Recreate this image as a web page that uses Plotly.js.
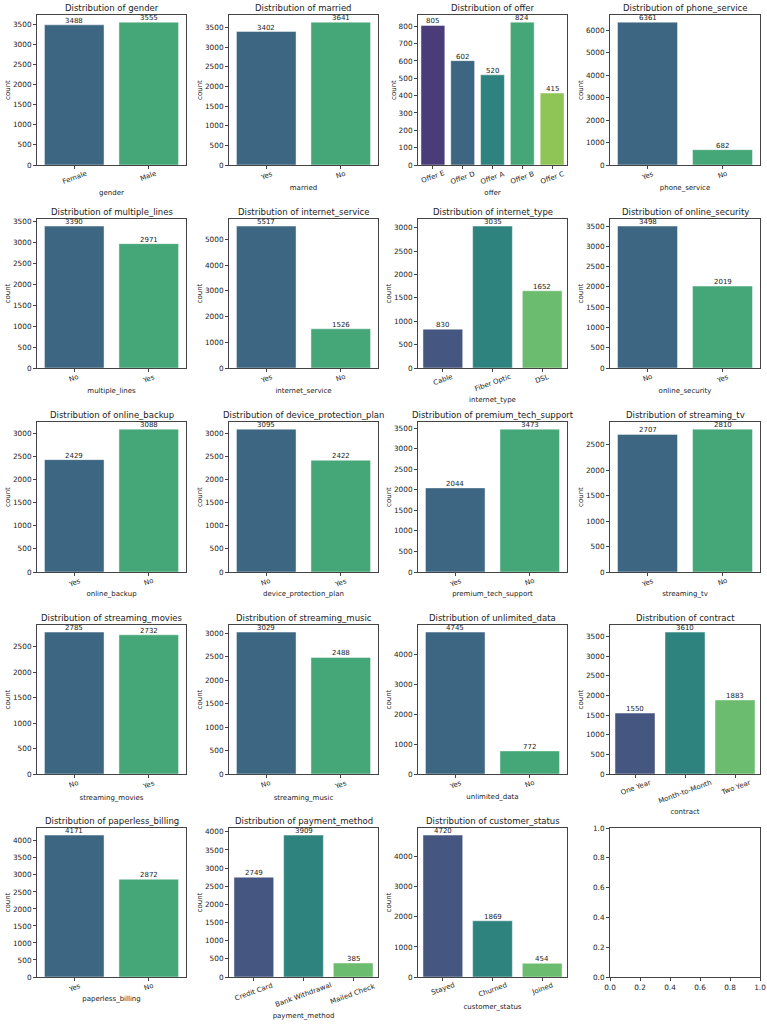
<!DOCTYPE html>
<html><head><meta charset="utf-8">
<script src="https://cdn.plot.ly/plotly-3.0.1.min.js"></script>
<style>html,body{margin:0;padding:0;background:#fff}</style>
</head><body><div id="chart" style="width:767px;height:1025px"></div>
<script>
// ---- data ----
const genderCats = ['Female', 'Male'];
const genderCounts = [3488, 3555];
const marriedCats = ['Yes', 'No'];
const marriedCounts = [3402, 3641];
const offerCats = ['Offer E', 'Offer D', 'Offer A', 'Offer B', 'Offer C'];
const offerCounts = [805, 602, 520, 824, 415];
const phoneServiceCats = ['Yes', 'No'];
const phoneServiceCounts = [6361, 682];
const multipleLinesCats = ['No', 'Yes'];
const multipleLinesCounts = [3390, 2971];
const internetServiceCats = ['Yes', 'No'];
const internetServiceCounts = [5517, 1526];
const internetTypeCats = ['Cable', 'Fiber Optic', 'DSL'];
const internetTypeCounts = [830, 3035, 1652];
const onlineSecurityCats = ['No', 'Yes'];
const onlineSecurityCounts = [3498, 2019];
const onlineBackupCats = ['Yes', 'No'];
const onlineBackupCounts = [2429, 3088];
const deviceProtectionCats = ['No', 'Yes'];
const deviceProtectionCounts = [3095, 2422];
const premiumTechCats = ['Yes', 'No'];
const premiumTechCounts = [2044, 3473];
const streamingTvCats = ['Yes', 'No'];
const streamingTvCounts = [2707, 2810];
const streamingMoviesCats = ['No', 'Yes'];
const streamingMoviesCounts = [2785, 2732];
const streamingMusicCats = ['No', 'Yes'];
const streamingMusicCounts = [3029, 2488];
const unlimitedDataCats = ['Yes', 'No'];
const unlimitedDataCounts = [4745, 772];
const contractCats = ['One Year', 'Month-to-Month', 'Two Year'];
const contractCounts = [1550, 3610, 1883];
const paperlessCats = ['Yes', 'No'];
const paperlessCounts = [4171, 2872];
const paymentCats = ['Credit Card', 'Bank Withdrawal', 'Mailed Check'];
const paymentCounts = [2749, 3909, 385];
const customerStatusCats = ['Stayed', 'Churned', 'Joined'];
const customerStatusCounts = [4720, 1869, 454];

const panels = [
  ['gender', genderCats, genderCounts],
  ['married', marriedCats, marriedCounts],
  ['offer', offerCats, offerCounts],
  ['phone_service', phoneServiceCats, phoneServiceCounts],
  ['multiple_lines', multipleLinesCats, multipleLinesCounts],
  ['internet_service', internetServiceCats, internetServiceCounts],
  ['internet_type', internetTypeCats, internetTypeCounts],
  ['online_security', onlineSecurityCats, onlineSecurityCounts],
  ['online_backup', onlineBackupCats, onlineBackupCounts],
  ['device_protection_plan', deviceProtectionCats, deviceProtectionCounts],
  ['premium_tech_support', premiumTechCats, premiumTechCounts],
  ['streaming_tv', streamingTvCats, streamingTvCounts],
  ['streaming_movies', streamingMoviesCats, streamingMoviesCounts],
  ['streaming_music', streamingMusicCats, streamingMusicCounts],
  ['unlimited_data', unlimitedDataCats, unlimitedDataCounts],
  ['contract', contractCats, contractCounts],
  ['paperless_billing', paperlessCats, paperlessCounts],
  ['payment_method', paymentCats, paymentCounts],
  ['customer_status', customerStatusCats, customerStatusCounts]
];

// ---- style ----
const yTickStep = [500,500,100,1000,500,1000,500,500,500,500,500,500,500,500,1000,500,500,500,1000];
const xTitleGap = [27,22,27,22,22,22,31,22,21,21,21,21,23,23,22,37,21,38,29];
const palettes = {
  2: ['#3d6682', '#45a778'],
  3: ['#455681', '#2f837f', '#6bbc6e'],
  5: ['#4a3c78', '#3d6682', '#2f837f', '#45a778', '#8fc556']
};
const colPx = [[37,186],[229,378],[418,567],[610,760]];
const rowPx = [[15,165],[219,368],[422,572],[625,774],[828,977]];
const W = 767, H = 1025;
const FONT = 'DejaVu Sans, Arial, sans-serif';
const TXT = '#222222';
const LINE = '#444444';

const traces = [];
const annotations = [];
const layout = {
  width: W, height: H,
  margin: {l:0, r:0, t:0, b:0},
  paper_bgcolor: '#ffffff', plot_bgcolor: '#ffffff',
  showlegend: false,
  font: {family: FONT, size: 7, color: TXT},
  bargap: 0.2
};

function domains(i) {
  const c = colPx[i % 4], r = rowPx[Math.floor(i / 4)];
  return {x: [c[0] / W, c[1] / W], y: [1 - r[1] / H, 1 - r[0] / H]};
}

panels.forEach((p, i) => {
  const [name, cats, counts] = p;
  const id = i + 1;
  const xs = id === 1 ? 'x' : 'x' + id;
  const ys = id === 1 ? 'y' : 'y' + id;
  const d = domains(i);
  const pal = palettes[cats.length];
  traces.push({
    type: 'bar', x: cats, y: counts, xaxis: xs, yaxis: ys,
    marker: {color: pal, line: {color: 'rgba(255,255,255,0.45)', width: 1}},
    hoverinfo: 'x+y', cliponaxis: false
  });
  const ymax = Math.max(...counts) * 1.05;
  layout['xaxis' + (id === 1 ? '' : id)] = {
    domain: d.x, anchor: ys, type: 'category',
    range: [-0.5, cats.length - 0.5],
    showticklabels: false, ticks: 'outside', ticklen: 3, tickcolor: LINE, tickwidth: 1,
    showline: true, mirror: true, linecolor: LINE, linewidth: 1,
    showgrid: false, zeroline: false, fixedrange: true,
    title: {text: name, font: {size: 7, color: TXT}, standoff: xTitleGap[i] - 5}
  };
  layout['yaxis' + (id === 1 ? '' : id)] = {
    domain: d.y, anchor: xs,
    range: [0, ymax], tick0: 0, dtick: yTickStep[i],
    ticks: 'outside', ticklen: 3, tickcolor: LINE, tickwidth: 1,
    tickfont: {size: 7.3, color: TXT},
    showline: true, mirror: true, linecolor: LINE, linewidth: 1,
    showgrid: false, zeroline: false, fixedrange: true,
    title: {text: 'count', font: {size: 7, color: TXT}, standoff: 1}
  };
  // subplot title
  annotations.push({
    text: 'Distribution of ' + name, xref: xs + ' domain', yref: ys + ' domain',
    x: 0.5, y: 1, xanchor: 'center', yanchor: 'bottom', yshift: 0,
    showarrow: false, font: {size: 8.5, color: TXT}
  });
  cats.forEach((c, k) => {
    // value labels
    annotations.push({
      text: String(counts[k]), xref: xs, yref: ys, x: c, y: counts[k],
      xanchor: 'center', yanchor: 'bottom', yshift: -2,
      showarrow: false, font: {size: 7, color: TXT}
    });
    // rotated category tick labels
    annotations.push({
      text: c, xref: xs, yref: ys + ' domain', x: c, y: 0,
      xanchor: 'center', yanchor: 'top', yshift: -2, textangle: -20,
      showarrow: false, font: {size: 7, color: TXT}
    });
  });
});

// empty 20th panel
{
  const d = domains(19);
  traces.push({type: 'scatter', x: [], y: [], xaxis: 'x20', yaxis: 'y20', mode: 'markers'});
  const common = {
    range: [0, 1], tick0: 0, dtick: 0.2, tickformat: '.1f',
    ticks: 'outside', ticklen: 3, tickcolor: LINE, tickwidth: 1,
    tickfont: {size: 7.3, color: TXT},
    showline: true, mirror: true, linecolor: LINE, linewidth: 1,
    showgrid: false, zeroline: false, fixedrange: true
  };
  layout.xaxis20 = Object.assign({domain: d.x, anchor: 'y20'}, common);
  layout.yaxis20 = Object.assign({domain: d.y, anchor: 'x20'}, common);
}

layout.annotations = annotations;
Plotly.newPlot('chart', traces, layout, {displayModeBar: false, staticPlot: true});
</script>
</body></html>
